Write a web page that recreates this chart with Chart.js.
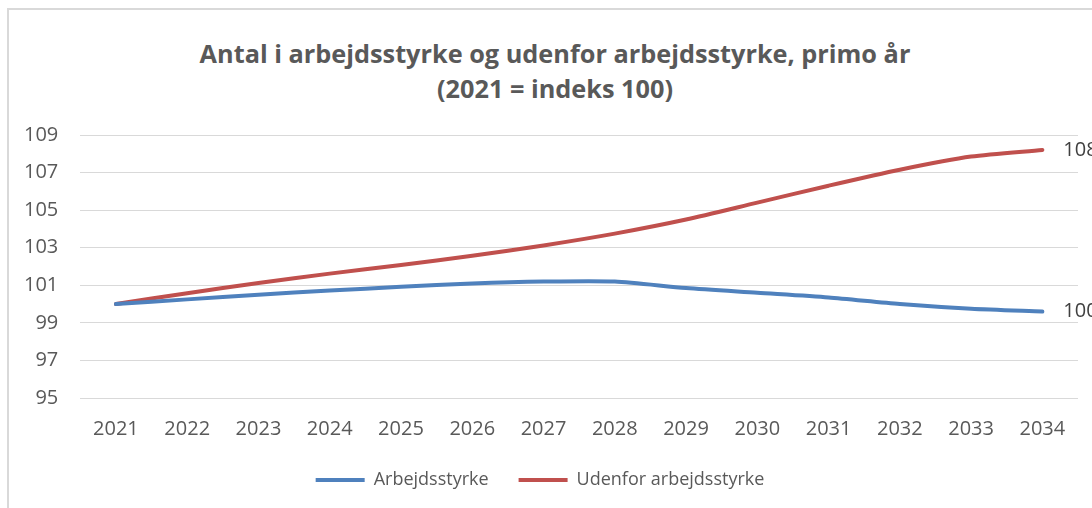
<!DOCTYPE html>
<html lang="da">
<head>
<meta charset="utf-8">
<title>Arbejdsstyrke</title>
<script src="https://cdn.jsdelivr.net/npm/chart.js@4.4.1/dist/chart.umd.min.js"></script>
<style>
    html, body { margin: 0; padding: 0; background: #fff; overflow: hidden; }
    #frame {
        position: absolute; left: 7px; top: 8px; width: 1200px; height: 600px;
        border: 2px solid #d9d9d9; box-sizing: border-box;
    }
    #wrap { position: absolute; left: 0; top: 0; width: 1092px; height: 508px; }
    #title {
        position: absolute; left: 155px; width: 800px; top: 36px;
        text-align: center; color: #595959;
        font: bold 25.3px/35px 'Open Sans', 'Noto Sans', sans-serif;
    }
</style>
</head>
<body>
<div id="frame"></div>
<div id="title">Antal i arbejdsstyrke og udenfor arbejdsstyrke, primo år<br>(2021 = indeks 100)</div>
<div id="wrap"><canvas id="chart"></canvas></div>
<script>
// data
const years = ["2021", "2022", "2023", "2024", "2025", "2026", "2027", "2028", "2029", "2030", "2031", "2032", "2033", "2034"];
const arbejdsstyrke = [100.0, 100.25, 100.5, 100.72, 100.92, 101.1, 101.2, 101.2, 100.85, 100.6, 100.35, 100.0, 99.75, 99.6];
const udenfor = [100.0, 100.58, 101.12, 101.62, 102.08, 102.57, 103.12, 103.75, 104.5, 105.4, 106.3, 107.15, 107.85, 108.2];
const yTicks = [95, 97, 99, 101, 103, 105, 107, 109];

const textColor = "#595959";
const font = "'Open Sans', 'Noto Sans', sans-serif";

// label at the end of each line (the last value, rounded)
const endLabels = {
    id: "endLabels",
    afterDatasetsDraw(chart) {
        const ctx = chart.ctx;
        ctx.save();
        ctx.font = "20px " + font;
        ctx.fillStyle = "#404040";
        ctx.textAlign = "left";
        ctx.textBaseline = "middle";
        chart.data.datasets.forEach((ds, i) => {
            const meta = chart.getDatasetMeta(i);
            const last = meta.data[meta.data.length - 1];
            const value = ds.data[ds.data.length - 1];
            ctx.fillText(String(Math.round(value)), last.x + 21, last.y);
        });
        ctx.restore();
    }
};

new Chart(document.getElementById("chart"), {
    type: "line",
    data: {
        labels: years,
        datasets: [
            {
                label: "Arbejdsstyrke",
                data: arbejdsstyrke,
                borderColor: "#4f81bd",
                backgroundColor: "#4f81bd",
                borderWidth: 4,
                borderCapStyle: "round",
                pointRadius: 0,
                tension: 0.25
            },
            {
                label: "Udenfor arbejdsstyrke",
                data: udenfor,
                borderColor: "#c0504d",
                backgroundColor: "#c0504d",
                borderWidth: 4,
                borderCapStyle: "round",
                pointRadius: 0,
                tension: 0.25
            }
        ]
    },
    options: {
        responsive: true,
        maintainAspectRatio: false,
        animation: false,
        layout: { padding: { left: 2, right: 14, top: 135, bottom: 9 } },
        scales: {
            x: {
                offset: true,
                grid: { display: false, drawTicks: false },
                border: { display: false },
                ticks: { color: textColor, font: { family: font, size: 20 }, padding: 19, maxRotation: 0 },
                afterFit(scale) {
                    scale.height = 43;
                }
            },
            y: {
                min: 95,
                max: 109,
                afterBuildTicks(scale) {
                    scale.ticks = yTicks.map(v => ({ value: v }));
                },
                grid: { color: "#d9d9d9", lineWidth: 1, drawTicks: false },
                border: { display: false },
                ticks: { color: textColor, font: { family: font, size: 20 }, padding: 22 }
            }
        },
        plugins: {
            title: { display: false },
            legend: {
                position: "bottom",
                labels: {
                    usePointStyle: true,
                    pointStyle: "line",
                    pointStyleWidth: 49,
                    boxHeight: 4,
                    color: textColor,
                    font: { family: font, size: 18 },
                    padding: 30
                }
            },
            tooltip: { enabled: false }
        }
    },
    plugins: [endLabels]
});
</script>
</body>
</html>
